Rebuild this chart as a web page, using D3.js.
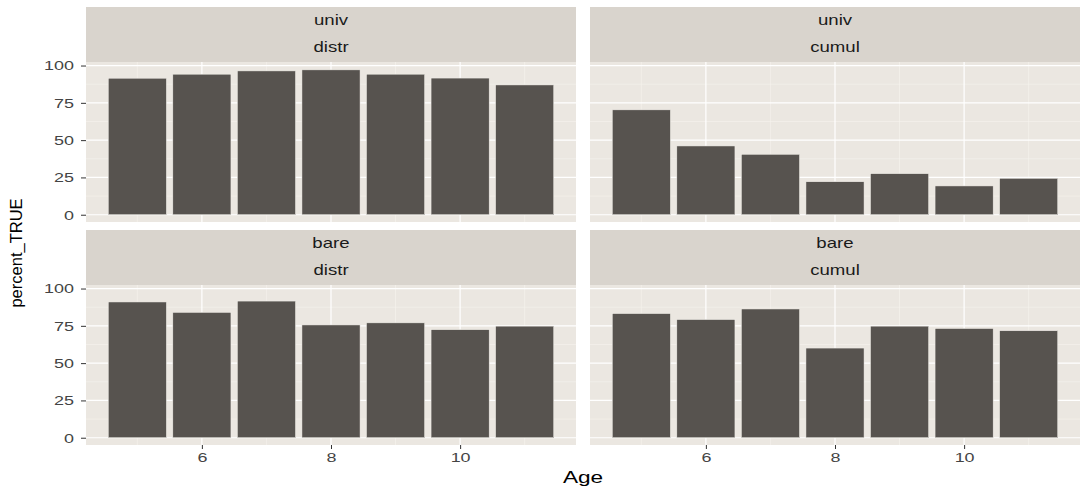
<!DOCTYPE html>
<html>
<head>
<meta charset="utf-8">
<script src="https://cdn.jsdelivr.net/npm/d3@7"></script>
<style>
  body { margin: 0; background: #fff; }
  text { font-family: "Liberation Sans", Arial, sans-serif; }
</style>
</head>
<body>
<svg id="chart" width="1081" height="486"></svg>
<script>
// data
const ages = [5, 6, 7, 8, 9, 10, 11];
const univDistr = [91.5, 94.2, 96.4, 97.1, 94.2, 91.6, 87.0];
const univCumul = [70.3, 46.1, 40.5, 22.1, 27.5, 19.3, 24.4];
const bareDistr = [91.0, 84.0, 91.6, 75.6, 77.0, 72.4, 74.8];
const bareCumul = [83.2, 79.2, 86.3, 60.1, 74.8, 73.2, 71.7];
const xTicks = [6, 8, 10];
const xMinor = [5, 7, 9, 11];
const yTicks = [0, 25, 50, 75, 100];
const yMinor = [12.5, 37.5, 62.5, 87.5];

const facets = [
  { row: 0, col: 0, top: "univ", bottom: "distr", values: univDistr },
  { row: 0, col: 1, top: "univ", bottom: "cumul", values: univCumul },
  { row: 1, col: 0, top: "bare", bottom: "distr", values: bareDistr },
  { row: 1, col: 1, top: "bare", bottom: "cumul", values: bareCumul }
];

const SX = 1.33; // the reference text looks stretched sideways
const colX = [86, 590];
const panelW = 490;
const rowY = [7, 230];   // strip tops
const stripH = 55;
const panelH = 160;

const svg = d3.select("#chart");

const x = d3.scaleLinear()
  .domain([4.205, 11.795])
  .range([0, panelW]);

const y = d3.scaleLinear()
  .domain([-4.875, 102.375])
  .range([panelH, 0]);

const barW = x(0.9) - x(0);

facets.forEach(f => {
  const g = svg.append("g")
    .attr("transform", "translate(" + colX[f.col] + "," + (rowY[f.row] + stripH) + ")");

  // strip
  const strip = svg.append("g")
    .attr("transform", "translate(" + colX[f.col] + "," + rowY[f.row] + ")");
  strip.append("rect")
    .attr("width", panelW)
    .attr("height", stripH)
    .attr("fill", "#d9d4cd");
  [f.top, f.bottom].forEach((t, i) => {
    strip.append("text")
      .attr("transform", "translate(" + (panelW / 2) + "," + (13 + i * 27) + ") scale(" + SX + ",1)")
      .attr("text-anchor", "middle")
      .attr("dy", "0.35em")
      .attr("font-size", 14)
      .attr("fill", "#1a1a1a")
      .text(t);
  });

  // panel
  g.append("rect")
    .attr("width", panelW)
    .attr("height", panelH)
    .attr("fill", "#ebe7e1");

  g.selectAll(".ymin").data(yMinor).enter().append("line")
    .attr("x1", 0).attr("x2", panelW)
    .attr("y1", d => y(d)).attr("y2", d => y(d))
    .attr("stroke", "#f6f3ef").attr("stroke-width", 0.6);
  g.selectAll(".xmin").data(xMinor).enter().append("line")
    .attr("y1", 0).attr("y2", panelH)
    .attr("x1", d => x(d)).attr("x2", d => x(d))
    .attr("stroke", "#f6f3ef").attr("stroke-width", 0.6);
  g.selectAll(".ymaj").data(yTicks).enter().append("line")
    .attr("x1", 0).attr("x2", panelW)
    .attr("y1", d => y(d)).attr("y2", d => y(d))
    .attr("stroke", "#ffffff").attr("stroke-width", 1.2);
  g.selectAll(".xmaj").data(xTicks).enter().append("line")
    .attr("y1", 0).attr("y2", panelH)
    .attr("x1", d => x(d)).attr("x2", d => x(d))
    .attr("stroke", "#ffffff").attr("stroke-width", 1.2);

  g.selectAll(".bar").data(f.values).enter().append("rect")
    .attr("x", (d, i) => x(ages[i]) - barW / 2)
    .attr("y", d => y(d))
    .attr("width", barW)
    .attr("height", d => y(0) - y(d))
    .attr("fill", "#57534f")
    .attr("stroke", "#f2efea")
    .attr("stroke-width", 0.5);

  if (f.col === 0) {
    const ax = g.append("g")
      .call(d3.axisLeft(y).tickValues(yTicks).tickSize(5).tickPadding(7));
    ax.select(".domain").remove();
    ax.selectAll("line").attr("stroke", "#333");
    ax.selectAll("text")
      .attr("font-size", 13.5)
      .attr("fill", "#444")
      .attr("x", -12 / SX)
      .attr("transform", "scale(" + SX + ",1)");
  }
  if (f.row === 1) {
    const ax = g.append("g")
      .attr("transform", "translate(0," + panelH + ")")
      .call(d3.axisBottom(x).tickValues(xTicks).tickSize(4).tickPadding(3));
    ax.select(".domain").remove();
    ax.selectAll("line").attr("stroke", "#333");
    ax.selectAll("text")
      .attr("font-size", 13.5)
      .attr("fill", "#444")
      .attr("transform", "scale(" + SX + ",1)");
  }
});

svg.append("text")
  .attr("transform", "translate(583,477) scale(" + SX + ",1)")
  .attr("text-anchor", "middle")
  .attr("dy", "0.35em")
  .attr("font-size", 17)
  .attr("fill", "#000")
  .text("Age");

svg.append("text")
  .attr("transform", "translate(16,253) rotate(-90)")
  .attr("text-anchor", "middle")
  .attr("dy", "0.35em")
  .attr("font-size", 16.5)
  .attr("fill", "#000")
  .text("percent_TRUE");
</script>
</body>
</html>
